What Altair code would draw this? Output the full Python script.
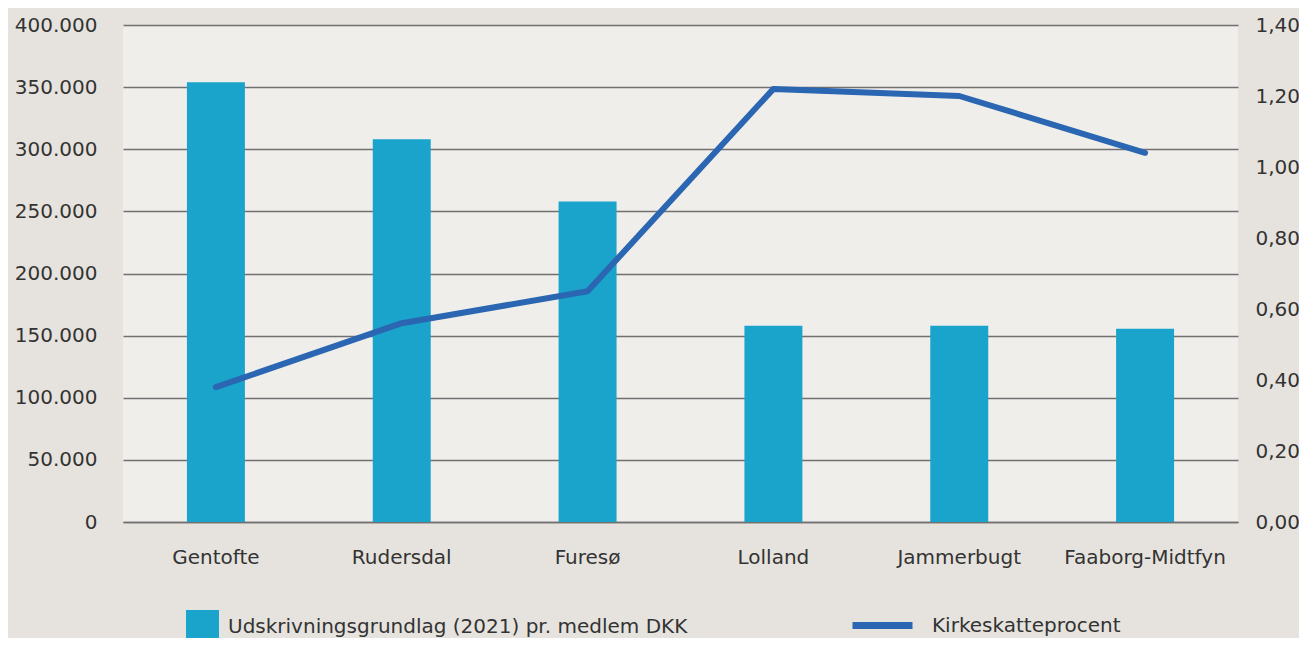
import altair as alt
import pandas as pd

kommuner = ["Gentofte", "Rudersdal", "Furesø", "Lolland", "Jammerbugt", "Faaborg-Midtfyn"]
grundlag = [354000, 308000, 258000, 158000, 158000, 155500]
kirkeskat = [0.38, 0.56, 0.65, 1.22, 1.20, 1.04]

bar_name = "Udskrivningsgrundlag (2021) pr. medlem DKK"
line_name = "Kirkeskatteprocent"

df = pd.DataFrame({"kommune": kommuner, "grundlag": grundlag, "pct": kirkeskat,
                   "s1": bar_name, "s2": line_name})

FONT = "DejaVu Sans"
TXT = "#333333"
GRID = "#707070"

x = alt.X("kommune:N", sort=kommuner, title=None,
          scale=alt.Scale(paddingInner=0.688, paddingOuter=0.344),
          axis=alt.Axis(labelAngle=0, labelFontSize=20, labelColor=TXT, labelFont=FONT,
                        labelPadding=25, ticks=False, domainColor=GRID, domainWidth=1.5))

bars = alt.Chart(df).mark_bar(color="#1AA4CB").encode(
    x=x,
    y=alt.Y("grundlag:Q", title=None,
            scale=alt.Scale(domain=[0, 400000]),
            axis=alt.Axis(values=[0, 50000, 100000, 150000, 200000, 250000, 300000, 350000, 400000],
                          labelExpr="replace(format(datum.value, ','), ',', '.')",
                          labelFontSize=20, labelColor=TXT, labelFont=FONT,
                          labelPadding=26, ticks=False, domain=False,
                          gridColor=GRID, gridWidth=1.5)),
    fill=alt.Fill("s1:N", title=None,
                  scale=alt.Scale(domain=[bar_name], range=["#1AA4CB"]),
                  legend=alt.Legend(orient="none", legendX=63, legendY=585,
                                    symbolType="square", symbolSize=1089,
                                    symbolStrokeWidth=0, labelFontSize=20,
                                    labelColor=TXT, labelFont=FONT, labelOffset=9,
                                    labelLimit=600)),
)

line = alt.Chart(df).mark_line(strokeWidth=6, strokeCap="round", strokeJoin="round").encode(
    x=alt.X("kommune:N", sort=kommuner),
    y=alt.Y("pct:Q", title=None,
            scale=alt.Scale(domain=[0, 1.4]),
            axis=alt.Axis(orient="right", values=[0, 0.2, 0.4, 0.6, 0.8, 1.0, 1.2, 1.4],
                          labelExpr="replace(format(datum.value, '.2f'), '.', ',')",
                          labelFontSize=20, labelColor=TXT, labelFont=FONT,
                          labelPadding=17, ticks=False, domain=False, grid=False)),
    stroke=alt.Stroke("s2:N", title=None,
                      scale=alt.Scale(domain=[line_name], range=["#2A66B1"]),
                      legend=alt.Legend(orient="none", legendX=726, legendY=567,
                                        symbolType="stroke", symbolSize=3600,
                                        symbolStrokeWidth=7, labelFontSize=20,
                                        labelColor=TXT, labelFont=FONT, labelOffset=16,
                                        labelLimit=600)),
)

chart = alt.layer(bars, line).resolve_scale(y="independent").properties(
    width=1115, height=497,
    background="#E6E3DE",
    padding={"left": 115, "top": 17, "right": 61, "bottom": 116},
    autosize=alt.AutoSizeParams(type="none"),
).configure_view(fill="#EFEEEB", stroke=None)

chart.save("out.html", embed_options={"renderer": "svg", "actions": False})
